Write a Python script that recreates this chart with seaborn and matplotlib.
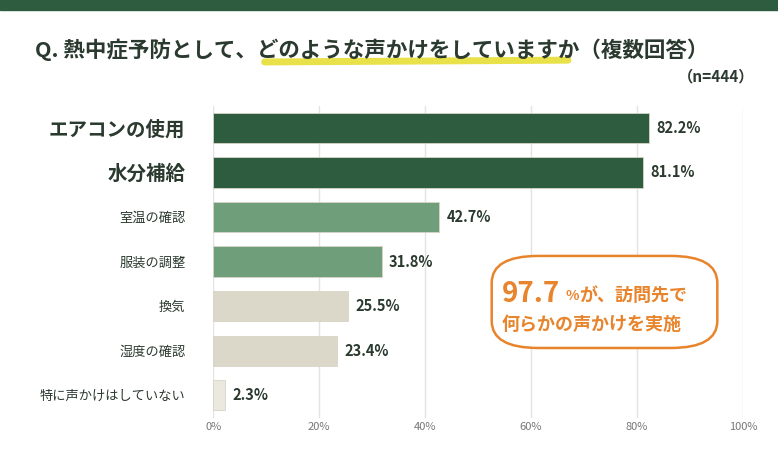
import matplotlib
matplotlib.use("Agg")
import matplotlib.pyplot as plt
from matplotlib.patches import FancyBboxPatch
import pandas as pd
import seaborn as sns

categories = ["エアコンの使用", "水分補給", "室温の確認", "服装の調整", "換気", "湿度の確認", "特に声かけはしていない"]
values = [82.2, 81.1, 42.7, 31.8, 25.5, 23.4, 2.3]
colors = ["#2d5c3f", "#2d5c3f", "#6e9f7a", "#6e9f7a", "#dbd7c9", "#dbd7c9", "#ebe8df"]
ticks = [0, 20, 40, 60, 80, 100]

sns.set_style("white")
plt.rcParams['font.family'] = ['Noto Sans CJK JP', 'DejaVu Sans']

df = pd.DataFrame({"cat": categories, "val": values})
fig = plt.figure(figsize=(7.78, 4.49), dpi=100)
ax = fig.add_axes([0.274, 0.07, 0.681, 0.695])
sns.barplot(data=df, x="val", y="cat", hue="cat", palette=colors, legend=False,
            saturation=1, width=0.68, ax=ax, zorder=3)
for p in ax.patches:
    p.set_edgecolor("#d8d4c6")
    p.set_linewidth(0.6)

ax.set_xlim(0, 100)
ax.set_xticks(ticks)
ax.set_xticklabels([f"{t}%" for t in ticks], fontsize=8, color="#777777")
ax.xaxis.grid(True, color="#e3e3e3", lw=1, zorder=0)
ax.set_xlabel("")
ax.set_ylabel("")
for s in ax.spines.values():
    s.set_visible(False)
ax.tick_params(axis="both", length=0)
for i, lbl in enumerate(ax.get_yticklabels()):
    lbl.set_color("#2b3a2f")
    if i < 2:
        lbl.set_fontsize(14)
        lbl.set_fontweight("bold")
    else:
        lbl.set_fontsize(9.5)
ax.tick_params(axis="y", pad=20)

for i, v in enumerate(values):
    ax.text(v + 1.4, i, f"{v}%", va="center", ha="left", fontsize=10.5,
            fontweight="bold", color="#2b3a2f")

# header bar
fig.patches.append(plt.Rectangle((0, 0.977), 1, 0.023, transform=fig.transFigure,
                                 color="#2d5c3f"))
# yellow highlight stroke
fig.add_artist(plt.Line2D([0.34, 0.73], [0.862, 0.866], transform=fig.transFigure,
                          color="#e6dc2a", lw=5, alpha=0.85, solid_capstyle="round"))
fig.text(0.045, 0.89, "Q. 熱中症予防として、どのような声かけをしていますか（複数回答）",
         fontsize=15.5, fontweight="bold", color="#2b3a2f", va="center")
fig.text(0.97, 0.83, "（n=444）", fontsize=11, fontweight="bold", color="#2b3a2f",
         ha="right", va="center")

# callout
box = FancyBboxPatch((0.632, 0.225), 0.29, 0.205, transform=fig.transFigure,
                     boxstyle="round,pad=0,rounding_size=0.06", fc="white",
                     ec="#e8842c", lw=1.8, zorder=5)
fig.patches.append(box)
fig.text(0.645, 0.345, "97.7", fontsize=20, fontweight="bold", color="#e8842c", va="center", zorder=6)
fig.text(0.727, 0.340, "%", fontsize=10, fontweight="bold", color="#e8842c", va="center", zorder=6)
fig.text(0.745, 0.343, "が、訪問先で", fontsize=13, fontweight="bold", color="#e8842c", va="center", zorder=6)
fig.text(0.645, 0.278, "何らかの声かけを実施", fontsize=13, fontweight="bold", color="#e8842c", va="center", zorder=6)

fig.savefig("out.png", dpi=100)
